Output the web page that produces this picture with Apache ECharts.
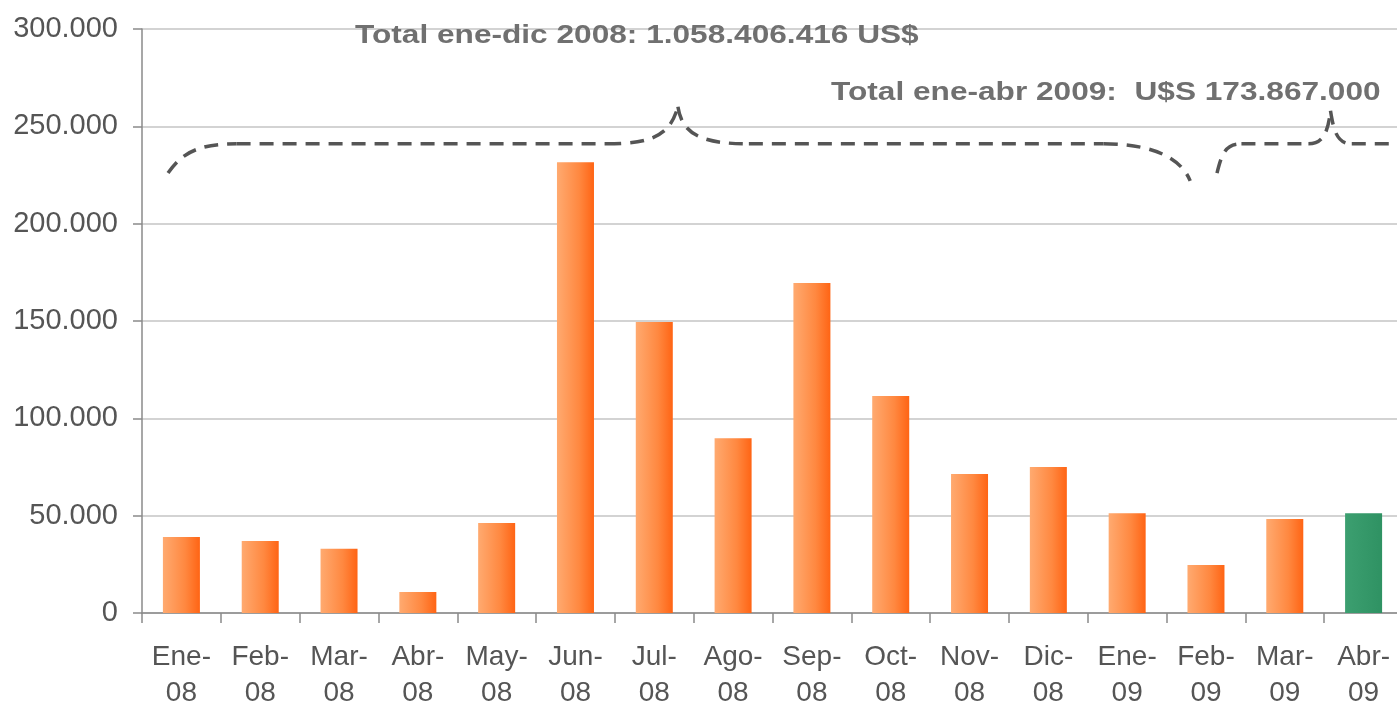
<!DOCTYPE html>
<html>
<head>
<meta charset="utf-8">
<script src="https://cdn.jsdelivr.net/npm/echarts@6/dist/echarts.min.js"></script>
<style>
  html, body { margin: 0; padding: 0; background: #fff; }
  #main { width: 1397px; height: 706px; }
</style>
</head>
<body>
<div id="main"></div>
<script>
var meses = ['Ene-\n08', 'Feb-\n08', 'Mar-\n08', 'Abr-\n08', 'May-\n08', 'Jun-\n08', 'Jul-\n08', 'Ago-\n08',
             'Sep-\n08', 'Oct-\n08', 'Nov-\n08', 'Dic-\n08', 'Ene-\n09', 'Feb-\n09', 'Mar-\n09', 'Abr-\n09'];
var valores = [39000, 37000, 33000, 10800, 46200, 231500, 149500, 89800, 169500, 111500, 71400, 75000, 51300, 24700, 48300, 51300];
var yTicks = [0, 50000, 100000, 150000, 200000, 250000, 300000];
var textoTotal2008 = 'Total ene-dic 2008: 1.058.406.416 US$';
var textoTotal2009 = 'Total ene-abr 2009:  U$S 173.867.000';

var myChart = echarts.init(document.getElementById('main'));

// colores de las barras
var naranja = new echarts.graphic.LinearGradient(0, 0, 1, 0, [
    { offset: 0, color: '#ffaa70' },
    { offset: 0.6, color: '#ff8840' },
    { offset: 1, color: '#ff6414' }
]);
var verde = new echarts.graphic.LinearGradient(0, 0, 1, 0, [
    { offset: 0, color: '#3c9f70' },
    { offset: 1, color: '#2f9263' }
]);

function fmt(v) {
    return String(v).replace(/\B(?=(\d{3})+(?!\d))/g, '.');
}

var option = {
    animation: false,
    grid: {
        left: 142,
        top: 29,
        bottom: 93,
        width: 1261,
        outerBoundsMode: 'none',
        containLabel: false
    },
    xAxis: {
        type: 'category',
        data: meses,
        axisLine: { lineStyle: { color: '#8a8a8a', width: 1.5 } },
        axisTick: { show: true, length: 10, lineStyle: { color: '#8a8a8a', width: 1.5 } },
        axisLabel: {
            interval: 0,
            color: '#555',
            fontSize: 28,
            fontFamily: 'Liberation Sans',
            lineHeight: 36,
            margin: 26
        }
    },
    yAxis: {
        type: 'value',
        min: yTicks[0],
        max: yTicks[yTicks.length - 1],
        interval: 50000,
        axisLine: { show: true, lineStyle: { color: '#8a8a8a', width: 1.5 } },
        axisTick: { show: true, length: 9, lineStyle: { color: '#8a8a8a', width: 1.5 } },
        splitLine: { lineStyle: { color: '#c4c4c4', width: 1.5 } },
        axisLabel: {
            color: '#555',
            fontSize: 29,
            fontFamily: 'Liberation Sans',
            margin: 24,
            formatter: fmt
        }
    },
    series: [{
        type: 'bar',
        barWidth: 37,
        data: valores.map(function (v, i) {
            return { value: v, itemStyle: { color: i === valores.length - 1 ? verde : naranja } };
        })
    }]
};
myChart.setOption(option);

// llaves punteadas: posiciones en (indice de categoria, miles)
function px(idx) {
    var x0 = myChart.convertToPixel({ xAxisIndex: 0 }, 0);
    var x1 = myChart.convertToPixel({ xAxisIndex: 0 }, 1);
    return x0 + (x1 - x0) * idx;
}
function py(val) {
    return myChart.convertToPixel({ yAxisIndex: 0 }, val * 1000);
}
var trazo = { stroke: '#555', lineWidth: 3.5, lineDash: [14, 9], fill: null };
function curva(a, c1, c2, b) {
    return {
        type: 'bezierCurve', z: 10, style: trazo,
        shape: {
            x1: px(a[0]), y1: py(a[1]), cpx1: px(c1[0]), cpy1: py(c1[1]),
            cpx2: px(c2[0]), cpy2: py(c2[1]), x2: px(b[0]), y2: py(b[1])
        }
    };
}
function recta(a, b) {
    return {
        type: 'line', z: 10, style: trazo,
        shape: { x1: px(a[0]), y1: py(a[1]), x2: px(b[0]), y2: py(b[1]) }
    };
}

var elementos = [
    // llave 2008
    curva([-0.17, 226], [0.0, 236], [0.2, 241], [0.7, 241]),
    recta([0.7, 241], [5.4, 241]),
    curva([5.4, 241], [6.0, 241], [6.2, 246], [6.3, 260]),
    curva([6.3, 260], [6.35, 246], [6.6, 241], [7.2, 241]),
    recta([7.2, 241], [11.7, 241]),
    curva([11.7, 241], [12.4, 241], [12.7, 232], [12.8, 222]),
    // llave 2009
    curva([13.14, 226], [13.2, 236], [13.25, 241], [13.45, 241]),
    recta([13.45, 241], [14.3, 241]),
    curva([14.3, 241], [14.5, 241], [14.55, 248], [14.58, 258]),
    curva([14.58, 258], [14.62, 248], [14.66, 241], [14.85, 241]),
    recta([14.85, 241], [16.3, 241]),
    {
        type: 'text', x: 355, y: 24, scaleX: 1.265, z: 10,
        style: { text: textoTotal2008, fill: '#707070', font: 'bold 25px "Liberation Sans"' }
    },
    {
        type: 'text', x: 831, y: 81, scaleX: 1.265, z: 10,
        style: { text: textoTotal2009, fill: '#707070', font: 'bold 25px "Liberation Sans"' }
    }
];

myChart.setOption({ graphic: elementos });

window.addEventListener("resize", function () {
    myChart.resize();
});
</script>
</body>
</html>
